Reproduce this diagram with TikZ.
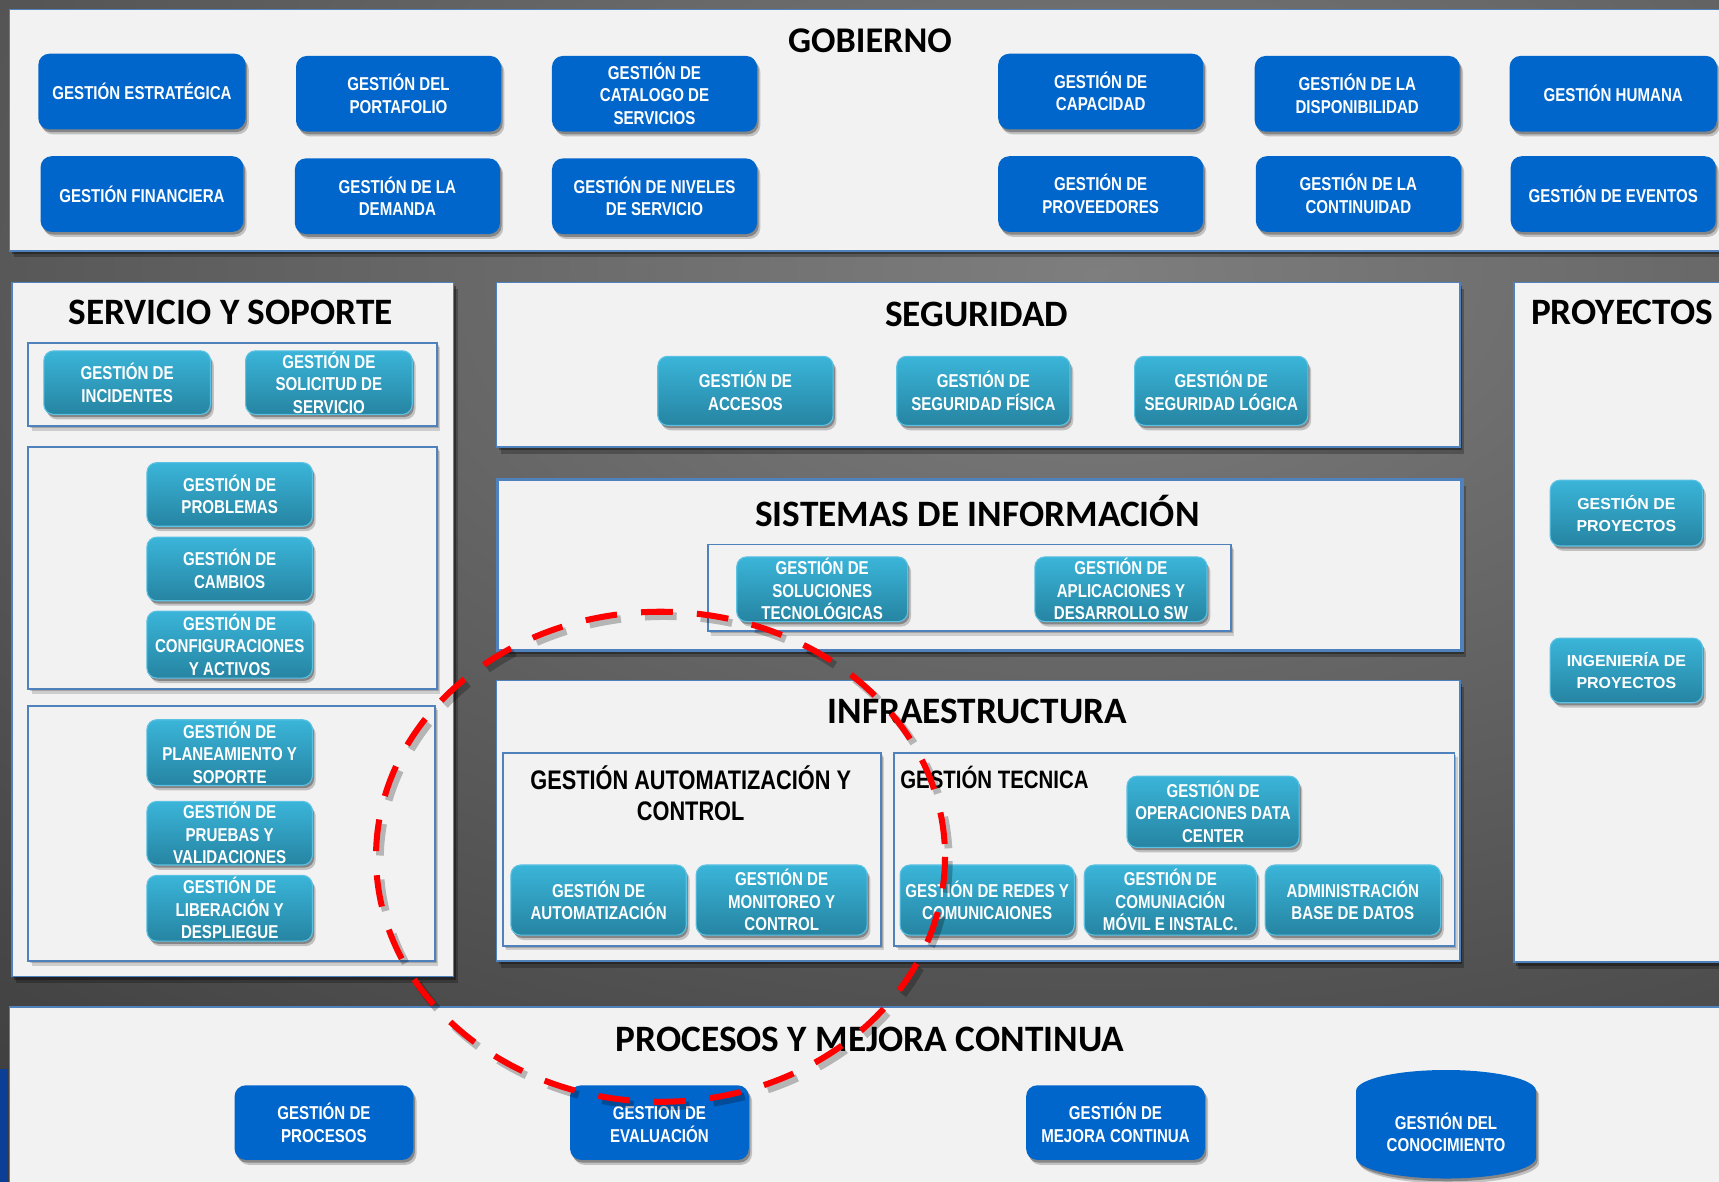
\documentclass[tikz,border=0pt]{standalone}
\usepackage{fontspec}
\setmainfont{Liberation Sans}
\newfontfamily\narfont[FakeStretch=0.81]{Liberation Sans}
\newfontfamily\titfont{Carlito}
\usetikzlibrary{shadows}
\definecolor{bgin}{HTML}{7E7E7E}
\definecolor{bgout}{HTML}{1A1A1A}
\definecolor{panelfill}{HTML}{F2F2F2}
\definecolor{panelline}{HTML}{4F81BD}
\definecolor{gblue}{HTML}{0066CC}
\definecolor{tealtop}{HTML}{3AB5D9}
\definecolor{tealbot}{HTML}{2684A2}
\definecolor{tealedge}{HTML}{5CC2E4}
\definecolor{stripblue}{HTML}{0B3F96}
\definecolor{dashred}{HTML}{FF0000}
\tikzset{
 panel/.style={fill=panelfill, draw=panelline, line width=1.5pt, inner sep=0pt, anchor=north west,
   drop shadow={shadow xshift=4pt, shadow yshift=-6pt, opacity=0.25, fill=black},
   drop shadow={shadow xshift=2pt, shadow yshift=-3pt, opacity=0.35, fill=black}},
 subpanel/.style={fill=panelfill, draw=panelline, line width=1.5pt, inner sep=0pt, anchor=north west,
   drop shadow={shadow xshift=3pt, shadow yshift=-4pt, opacity=0.15, fill=black},
   drop shadow={shadow xshift=1.5pt, shadow yshift=-2pt, opacity=0.2, fill=black}},
 boxshadow/.style={drop shadow={shadow xshift=3pt, shadow yshift=-4.5pt, opacity=0.2, fill=black},
   drop shadow={shadow xshift=1.5pt, shadow yshift=-2.5pt, opacity=0.3, fill=black}},
 gbox/.style={fill=gblue, rounded corners=10pt, text=white, align=center, inner sep=0pt,
   font=\narfont\bfseries\fontsize{17}{20.5}\selectfont, boxshadow},
 tbox/.style={top color=tealtop, bottom color=tealbot, draw=tealedge, line width=1pt, rounded corners=9pt,
   text=white, align=center, inner sep=0pt, font=\narfont\bfseries\fontsize{17}{20.5}\selectfont, boxshadow},
 pbox/.style={tbox, font=\bfseries\fontsize{14.5}{20}\selectfont},
 ttl/.style={font=\titfont\bfseries\fontsize{34}{40}\selectfont, text=black, inner sep=0pt},
 subttl/.style={font=\narfont\bfseries\fontsize{23}{29}\selectfont, text=black, inner sep=0pt, align=center},
 gw/.style={minimum width=187, minimum height=69},
}
\begin{document}
\begin{tikzpicture}[x=1pt,y=-1pt]
\useasboundingbox (0,0) rectangle (1568,1078);
\clip (0,0) rectangle (1568,1078);
% background
\shade[inner color=bgin, outer color=bgout] (1000,250) ellipse (2600 and 1500);
\fill[stripblue] (0,975) rectangle (7,1078);

% ---------- GOBIERNO ----------
\node[panel, minimum width=1580, minimum height=220] (gob) at (8,8) {};
\node[ttl, font=\titfont\bfseries\fontsize{33}{40}\selectfont] (tgob) at (793.5,37) {GOBIERNO};
\node[gbox, gw, minimum width=189] (estr) at (129.5,83.5) {GESTIÓN ESTRATÉGICA};
\node[gbox, gw] (port) at (363.5,85.5) {GESTIÓN DEL\\PORTAFOLIO};
\node[gbox, gw] (cat) at (597,85.5) {GESTIÓN DE\\CATALOGO DE\\SERVICIOS};
\node[gbox, gw] (cap) at (1004,83.5) {GESTIÓN DE\\CAPACIDAD};
\node[gbox, gw] (disp) at (1238,85.5) {GESTIÓN DE LA\\DISPONIBILIDAD};
\node[gbox, gw, minimum width=189] (hum) at (1471.5,85.5) {GESTIÓN HUMANA};
\node[gbox, gw, minimum width=185] (fin) at (129.5,177) {GESTIÓN FINANCIERA};
\node[gbox, gw] (dem) at (362.5,179) {GESTIÓN DE LA\\DEMANDA};
\node[gbox, gw] (niv) at (597,179) {GESTIÓN DE NIVELES\\DE SERVICIO};
\node[gbox, gw] (prov) at (1004,177) {GESTIÓN DE\\PROVEEDORES};
\node[gbox, gw] (cont) at (1239,177) {GESTIÓN DE LA\\CONTINUIDAD};
\node[gbox, gw] (eve) at (1471.5,177) {GESTIÓN DE EVENTOS};

% ---------- SERVICIO Y SOPORTE ----------
\node[panel, minimum width=403, minimum height=633] (srv) at (10,257) {};
\node[ttl] (tsrv) at (210.5,285) {SERVICIO Y SOPORTE};
\node[subpanel, minimum width=373, minimum height=76] (srv1) at (25,312) {};
\node[subpanel, minimum width=373, minimum height=221] (srv2) at (25,407) {};
\node[subpanel, minimum width=371, minimum height=233] (srv3) at (25,643) {};
\node[tbox, minimum width=152, minimum height=58] (inc) at (116,349) {GESTIÓN DE\\INCIDENTES};
\node[tbox, minimum width=152, minimum height=58] (sol) at (300,349) {GESTIÓN DE\\SOLICITUD DE\\SERVICIO};
\node[tbox, minimum width=151, minimum height=58] (prob) at (209.5,451) {GESTIÓN DE\\PROBLEMAS};
\node[tbox, minimum width=151, minimum height=58] (camb) at (209.5,519) {GESTIÓN DE\\CAMBIOS};
\node[tbox, minimum width=151, minimum height=61] (conf) at (209.5,588) {GESTIÓN DE\\CONFIGURACIONES\\Y ACTIVOS};
\node[tbox, minimum width=151, minimum height=60] (plan) at (209.5,686.5) {GESTIÓN DE\\PLANEAMIENTO Y\\SOPORTE};
\node[tbox, minimum width=151, minimum height=58] (prue) at (209.5,760) {GESTIÓN DE\\PRUEBAS Y\\VALIDACIONES};
\node[tbox, minimum width=151, minimum height=60] (lib) at (209.5,828.5) {GESTIÓN DE\\LIBERACIÓN Y\\DESPLIEGUE};

% ---------- SEGURIDAD ----------
\node[panel, minimum width=879, minimum height=150] (seg) at (452,257) {};
\node[ttl] (tseg) at (891,287) {SEGURIDAD};
\node[tbox, minimum width=160, minimum height=63] (acc) at (680,356.5) {GESTIÓN DE\\ACCESOS};
\node[tbox, minimum width=158, minimum height=63] (fis) at (897,356.5) {GESTIÓN DE\\SEGURIDAD FÍSICA};
\node[tbox, minimum width=158, minimum height=63] (logi) at (1114,356.5) {GESTIÓN DE\\SEGURIDAD LÓGICA};

% ---------- SISTEMAS DE INFORMACION ----------
\node[panel, line width=3pt, minimum width=880, minimum height=156] (si) at (452,436) {};
\node[ttl] (tsi) at (891.5,466) {SISTEMAS DE INFORMACIÓN};
\node[subpanel, minimum width=477, minimum height=79] (sisub) at (645,496) {};
\node[tbox, minimum width=156, minimum height=59] (stec) at (750,537.5) {GESTIÓN DE\\SOLUCIONES\\TECNOLÓGICAS};
\node[tbox, minimum width=157, minimum height=59] (apl) at (1022.5,537.5) {GESTIÓN DE\\APLICACIONES Y\\DESARROLLO SW};

% ---------- INFRAESTRUCTURA ----------
\node[panel, minimum width=879, minimum height=256] (inf) at (452,620) {};
\node[ttl] (tinf) at (891.5,649) {INFRAESTRUCTURA};
\node[subpanel, minimum width=345, minimum height=176] (infa) at (458,686) {};
\node[subpanel, minimum width=511, minimum height=176] (inft) at (815,686) {};
\node[subttl, font=\narfont\bfseries\fontsize{24.5}{29}\selectfont] (tauto) at (630,723.5) {GESTIÓN AUTOMATIZACIÓN Y\\CONTROL};
\node[subttl, anchor=west] (ttec) at (821,709) {GESTIÓN TECNICA};
\node[tbox, minimum width=160, minimum height=64] (aut) at (546,821) {GESTIÓN DE\\AUTOMATIZACIÓN};
\node[tbox, minimum width=156, minimum height=64] (mon) at (713,821) {GESTIÓN DE\\MONITOREO Y\\CONTROL};
\node[tbox, minimum width=157, minimum height=65] (dc) at (1106.5,740.5) {GESTIÓN DE\\OPERACIONES DATA\\CENTER};
\node[tbox, minimum width=159, minimum height=64] (red) at (900.5,821) {GESTIÓN DE REDES Y\\COMUNICAIONES};
\node[tbox, minimum width=157, minimum height=64] (com) at (1067.5,821) {GESTIÓN DE\\COMUNIACIÓN\\MÓVIL E INSTALC.};
\node[tbox, minimum width=160, minimum height=64] (adm) at (1234,821) {ADMINISTRACIÓN\\BASE DE DATOS};

% ---------- PROYECTOS ----------
\node[panel, minimum width=200, minimum height=620] (proy) at (1380,257) {};
\node[ttl] (tproy) at (1479.5,285) {PROYECTOS};
\node[pbox, minimum width=139, minimum height=60] (gp) at (1483.5,468) {GESTIÓN DE\\PROYECTOS};
\node[pbox, minimum width=139, minimum height=59] (ip) at (1483.5,611.5) {INGENIERÍA DE\\PROYECTOS};

% ---------- PROCESOS ----------
\node[panel, minimum width=1580, minimum height=180] (proc) at (8,918) {};
\node[ttl] (tproc) at (793.5,948) {PROCESOS Y MEJORA CONTINUA};
\node[gbox, minimum width=163, minimum height=68, font=\narfont\bfseries\fontsize{17}{21}\selectfont] (gproc) at (295.5,1024) {GESTIÓN DE\\PROCESOS};
\node[gbox, minimum width=163, minimum height=68, font=\narfont\bfseries\fontsize{17}{21}\selectfont] (geval) at (601.5,1024) {GESTIÓN DE\\EVALUACIÓN};
\node[gbox, minimum width=163, minimum height=68, font=\narfont\bfseries\fontsize{17}{21}\selectfont] (gmej) at (1017.5,1024) {GESTIÓN DE\\MEJORA CONTINUA};
\path[fill=gblue, boxshadow] (1237,995) arc[start angle=180, end angle=360, x radius=82, y radius=19]
  -- (1401,1056) arc[start angle=0, end angle=180, x radius=82, y radius=19] -- cycle;
\node[text=white, align=center, inner sep=0pt, font=\narfont\bfseries\fontsize{17}{20}\selectfont] (gcon) at (1319,1033) {GESTIÓN DEL\\CONOCIMIENTO};

% ---------- red dashed ellipse ----------
\draw[black, opacity=0.25, line width=7pt, dash pattern=on 29pt off 22pt] (606,785.5) ellipse (259.5 and 223.5);
\draw[dashred, line width=5.5pt, dash pattern=on 29pt off 22pt] (602.5,781.5) ellipse (259.5 and 223.5);
\end{tikzpicture}
\end{document}
